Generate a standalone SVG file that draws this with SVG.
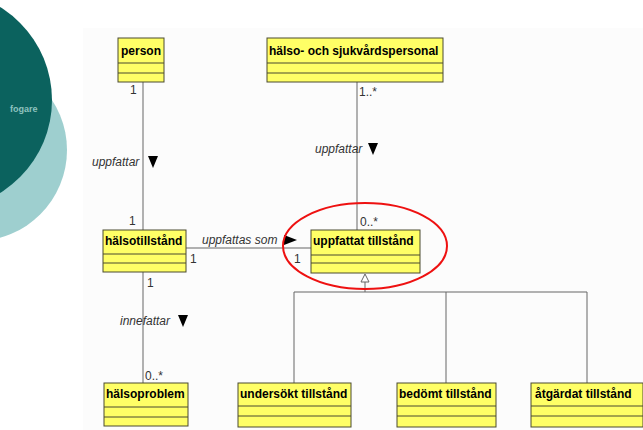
<svg xmlns="http://www.w3.org/2000/svg" width="643" height="430" viewBox="0 0 643 430">
  <style>
    .cls { fill: #ffff66; stroke: #4a4a30; stroke-width: 1; }
    .sep { stroke: #4a4a30; stroke-width: 1; fill: none; }
    .name { font-family: "Liberation Sans", Arial, sans-serif; font-weight: bold; font-size: 12px; fill: #000; }
    .edge { stroke: #666; stroke-width: 1; fill: none; }
    .mult { font-family: "Liberation Sans", Arial, sans-serif; font-size: 12px; fill: #333; }
    .role { font-family: "Liberation Sans", Arial, sans-serif; font-style: italic; font-size: 12px; fill: #333; }
    .dir { fill: #000; }
  </style>
  <rect width="643" height="430" fill="#ffffff"/>
  <rect x="83" y="28" width="560" height="402" fill="#fcfcfc"/>

  <!-- decorative circles on the left -->
  <g id="decor">
    <circle cx="-24" cy="150" r="91" fill="#9ecfcf"/>
    <circle cx="-57" cy="100" r="109" fill="#0b625e"/>
    <text x="10" y="112" font-family="'Liberation Sans', Arial, sans-serif" font-weight="bold" font-size="9" fill="#8fc2bf">fogare</text>
  </g>

  <!-- connectors -->
  <g id="connectors">
    <line class="edge" x1="143" y1="82" x2="143" y2="230"/>
    <line class="edge" x1="143" y1="272" x2="143" y2="383"/>
    <line class="edge" x1="357" y1="82" x2="357" y2="230"/>
    <line class="edge" x1="186" y1="248" x2="311" y2="248"/>
    <!-- generalization tree -->
    <line class="edge" x1="365" y1="282" x2="365" y2="292"/>
    <polyline class="edge" points="294,383 294,292 587,292 587,383"/>
    <line class="edge" x1="446" y1="292" x2="446" y2="383"/>
    <polygon points="365,274 361,282 369,282" fill="#fff" stroke="#666" stroke-width="1"/>

    <!-- multiplicities -->
    <text class="mult" x="130" y="94">1</text>
    <text class="mult" x="129" y="225">1</text>
    <text class="mult" x="147" y="287">1</text>
    <text class="mult" x="145" y="380">0..*</text>
    <text class="mult" x="359" y="96">1..*</text>
    <text class="mult" x="360" y="226">0..*</text>
    <text class="mult" x="190" y="263">1</text>
    <text class="mult" x="294" y="263">1</text>

    <!-- role names and reading directions -->
    <text class="role" x="92" y="166">uppfattar</text>
    <polygon class="dir" points="148,156 158,156 153,168"/>
    <text class="role" x="120" y="325">innefattar</text>
    <polygon class="dir" points="178,315 188,315 183,327"/>
    <text class="role" x="315" y="153">uppfattar</text>
    <polygon class="dir" points="368,143 378,143 373,155"/>
    <text class="role" x="202" y="244">uppfattas som</text>
    <polygon class="dir" points="284,235 284,245 297,240"/>
  </g>

  <g id="person">
    <rect class="cls" x="118" y="38" width="46" height="44"/>
    <line class="sep" x1="118" y1="63" x2="164" y2="63"/>
    <line class="sep" x1="118" y1="73" x2="164" y2="73"/>
    <text class="name" x="121" y="55">person</text>
  </g>

  <g id="halso-och-sjukvardspersonal">
    <rect class="cls" x="267" y="38" width="176" height="44"/>
    <line class="sep" x1="267" y1="63" x2="443" y2="63"/>
    <line class="sep" x1="267" y1="73" x2="443" y2="73"/>
    <text class="name" x="269" y="55">hälso- och sjukvårdspersonal</text>
  </g>

  <g id="halsotillstand">
    <rect class="cls" x="103" y="230" width="83" height="42"/>
    <line class="sep" x1="103" y1="254" x2="186" y2="254"/>
    <line class="sep" x1="103" y1="263" x2="186" y2="263"/>
    <text class="name" x="105" y="245">hälsotillstånd</text>
  </g>

  <g id="uppfattat-tillstand">
    <rect class="cls" x="311" y="230" width="109" height="43"/>
    <line class="sep" x1="311" y1="255" x2="420" y2="255"/>
    <line class="sep" x1="311" y1="263" x2="420" y2="263"/>
    <text class="name" x="313" y="245">uppfattat tillstånd</text>
  </g>

  <g id="halsoproblem">
    <rect class="cls" x="104" y="383" width="84" height="43"/>
    <line class="sep" x1="104" y1="407" x2="188" y2="407"/>
    <line class="sep" x1="104" y1="417" x2="188" y2="417"/>
    <text class="name" x="106" y="398">hälsoproblem</text>
  </g>

  <g id="undersokt-tillstand">
    <rect class="cls" x="238" y="383" width="113" height="44"/>
    <line class="sep" x1="238" y1="406" x2="351" y2="406"/>
    <line class="sep" x1="238" y1="416" x2="351" y2="416"/>
    <text class="name" x="240" y="398">undersökt tillstånd</text>
  </g>

  <g id="bedomt-tillstand">
    <rect class="cls" x="397" y="383" width="99" height="44"/>
    <line class="sep" x1="397" y1="406" x2="496" y2="406"/>
    <line class="sep" x1="397" y1="416" x2="496" y2="416"/>
    <text class="name" x="399" y="398">bedömt tillstånd</text>
  </g>

  <g id="atgardat-tillstand">
    <rect class="cls" x="531" y="383" width="112" height="44"/>
    <line class="sep" x1="531" y1="406" x2="643" y2="406"/>
    <line class="sep" x1="531" y1="416" x2="643" y2="416"/>
    <text class="name" x="535" y="398">åtgärdat tillstånd</text>
  </g>

  <!-- highlight -->
  <ellipse cx="365" cy="246" rx="82" ry="43" fill="none" stroke="#ee1111" stroke-width="2"/>
</svg>
